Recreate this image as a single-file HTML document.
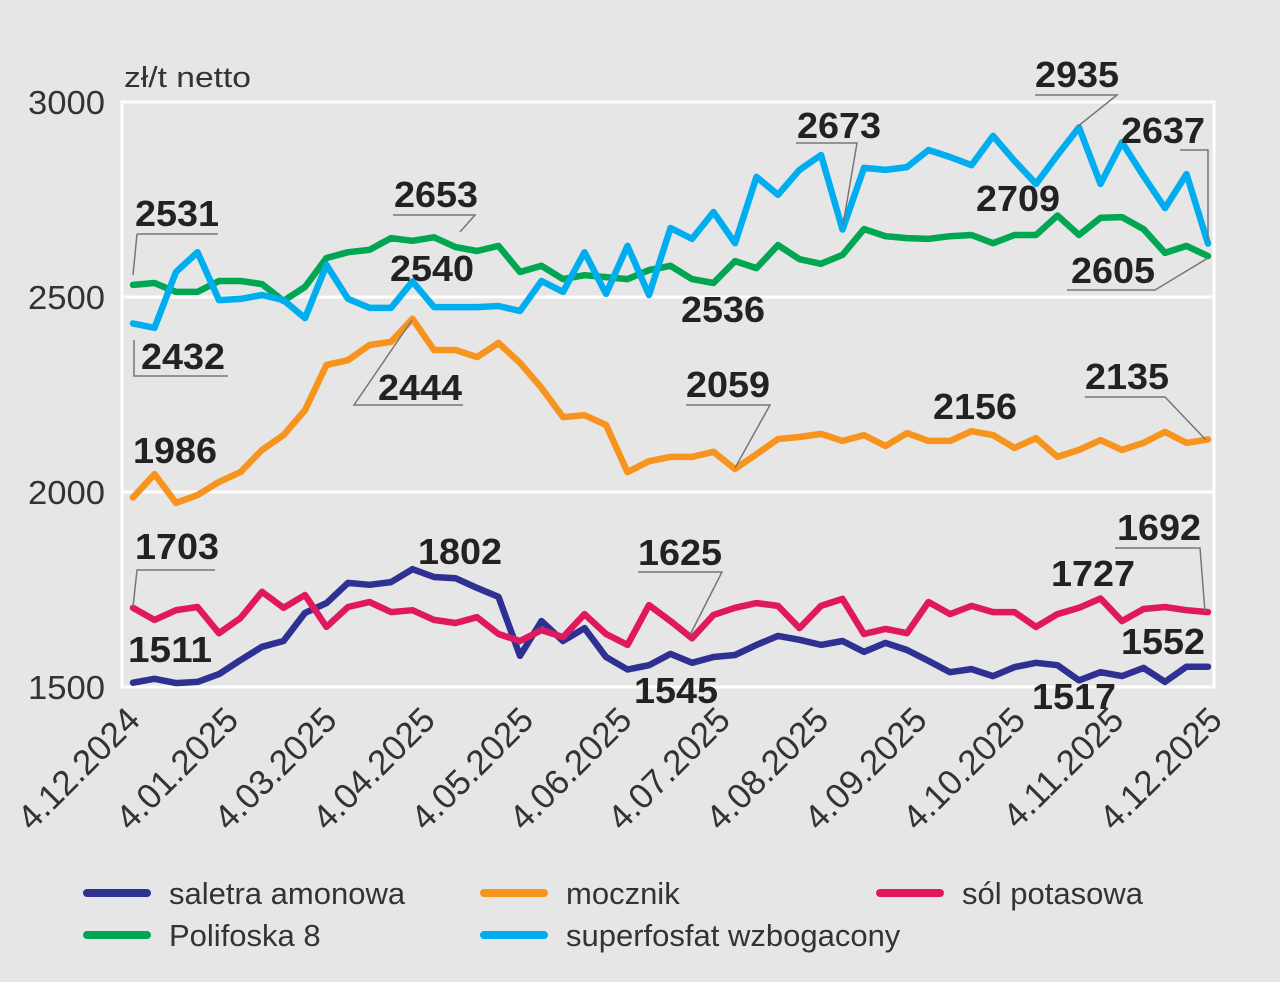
<!DOCTYPE html>
<html><head><meta charset="utf-8">
<style>
html,body{margin:0;padding:0;background:#e6e6e7;}
svg{display:block;font-family:"Liberation Sans",Arial,sans-serif;}
</style></head>
<body>
<svg id="chart" width="1280" height="982" viewBox="0 0 1280 982" xmlns="http://www.w3.org/2000/svg">
<rect x="0" y="0" width="1280" height="982" fill="#e6e6e7"/>
<g id="grid"></g>
<g id="axes"></g>
<g id="series"></g>
<g id="ann"></g>
<g id="legend"></g>
</svg>
<script>
const xLabels = ["4.12.2024","4.01.2025","4.03.2025","4.04.2025","4.05.2025","4.06.2025","4.07.2025","4.08.2025","4.09.2025","4.10.2025","4.11.2025","4.12.2025"];
const yTicks = [1500,2000,2500,3000];
const saletra = [1511,1521,1510,1513,1533,1569,1603,1618,1690,1715,1767,1762,1769,1802,1782,1779,1754,1731,1580,1669,1618,1651,1577,1545,1556,1585,1562,1577,1582,1608,1631,1621,1608,1618,1590,1613,1595,1567,1538,1546,1528,1551,1562,1556,1517,1538,1528,1549,1513,1552,1552];
const mocznik = [1986,2046,1972,1992,2026,2051,2108,2146,2210,2326,2338,2377,2385,2444,2364,2364,2346,2382,2331,2267,2192,2197,2172,2051,2079,2090,2090,2103,2059,2097,2136,2141,2149,2131,2146,2118,2151,2131,2131,2156,2146,2113,2138,2090,2108,2133,2108,2126,2154,2126,2135];
const sol = [1703,1672,1697,1705,1638,1677,1744,1703,1736,1654,1705,1718,1692,1697,1672,1664,1679,1636,1618,1646,1628,1687,1636,1608,1710,1669,1625,1685,1703,1715,1708,1651,1708,1726,1636,1649,1638,1718,1687,1708,1692,1692,1654,1687,1703,1727,1669,1700,1705,1697,1692];
const polifoska = [2531,2536,2513,2513,2541,2541,2533,2490,2526,2600,2615,2621,2651,2644,2653,2628,2618,2631,2564,2580,2546,2556,2551,2546,2569,2580,2546,2536,2592,2574,2633,2597,2585,2608,2674,2656,2651,2649,2656,2659,2638,2659,2659,2709,2659,2703,2705,2674,2613,2631,2605];
const superfosfat = [2432,2421,2564,2615,2492,2495,2505,2492,2446,2582,2495,2472,2472,2540,2474,2474,2474,2477,2464,2541,2513,2615,2508,2631,2505,2677,2649,2718,2638,2808,2762,2826,2864,2673,2831,2826,2833,2877,2859,2838,2913,2849,2790,2864,2935,2790,2897,2810,2728,2815,2637];
const seriesNames = ["saletra amonowa","mocznik","sól potasowa","Polifoska 8","superfosfat wzbogacony"];
const seriesColors = ["#2e3192","#f7941d","#e0195f","#00a651","#00aeef"];

const NS="http://www.w3.org/2000/svg";
const X0=133, X1=1208, Y0=687, Y1=102, VMIN=1500, VMAX=3000;
const N=saletra.length;
function xs(i){return X0+(X1-X0)*i/(N-1);}
function ys(v){return Y0-(v-VMIN)/(VMAX-VMIN)*(Y0-Y1);}
function mk(tag,attrs,parent){const e=document.createElementNS(NS,tag);for(const k in attrs)e.setAttribute(k,attrs[k]);parent.appendChild(e);return e;}

const grid=document.getElementById('grid');
const fr=mk('rect',{x:122,y:Y1,width:1092,height:Y0-Y1,fill:'none',stroke:'#fff','stroke-width':3},grid);


const axes=document.getElementById('axes');
yTicks.forEach(v=>{
  if(v>VMIN&&v<VMAX){
    const l=mk('line',{x1:122,x2:1214,y1:ys(v),y2:ys(v),stroke:'#fff','stroke-width':3},grid);
    
    
  }
  const t=mk('text',{x:105,y:ys(v)+12,'text-anchor':'end','font-size':33,fill:'#333',textLength:77,lengthAdjust:'spacingAndGlyphs'},axes);
  t.textContent=v;
  
  
});
const unit=mk('text',{x:124,y:87,'font-size':29,fill:'#333',textLength:127,lengthAdjust:'spacingAndGlyphs'},axes);
unit.textContent='zł/t netto';


xLabels.forEach((s,k)=>{
  const x=142+(1224-142)*k/(xLabels.length-1), y=722;
  const t=mk('text',{x:x,y:y,'text-anchor':'end','font-size':35,fill:'#333',transform:`rotate(-45 ${x} ${y})`},axes);
  t.textContent=s;
  
  
});

const sg=document.getElementById('series');
[saletra,mocznik,sol,polifoska,superfosfat].forEach((arr,si)=>{
  const pts=arr.map((v,i)=>xs(i).toFixed(1)+','+ys(v).toFixed(1)).join(' ');
  const p=mk('polyline',{points:pts,fill:'none',stroke:seriesColors[si],'stroke-width':6.5,'stroke-linejoin':'round','stroke-linecap':'round'},sg);
  
  
});

const ann=document.getElementById('ann');
const anns=[
 ["2531",135,226,"137,234 218,234 M137,234 133,275"],
 ["2432",141,369,"228,376 134,376 134,340"],
 ["2653",394,207,"393,215 475,215 460,232"],
 ["2540",390,281,""],
 ["2444",378,400,"463,405 354,405 412,320"],
 ["1986",133,463,""],
 ["1703",135,559,"215,570 137,570 133,607"],
 ["1511",128,662,""],
 ["1802",418,564,""],
 ["2536",681,322,""],
 ["2059",686,397,"686,405 770,405 735,468"],
 ["1625",638,565,"638,572 722,572 690,635"],
 ["1545",634,703,""],
 ["2673",797,138,"796,143 857,143 843,225"],
 ["2935",1035,87,"1035,95 1117,95 1077,127"],
 ["2637",1121,143,"1180,150 1208,150 1208,242"],
 ["2709",976,211,""],
 ["2605",1071,283,"1067,290 1155,290 1208,258"],
 ["2135",1085,389,"1085,397 1165,397 1206,440"],
 ["2156",933,419,""],
 ["1692",1117,540,"1115,548 1200,548 1205,612"],
 ["1727",1051,586,""],
 ["1552",1121,654,""],
 ["1517",1032,709,""]
];
anns.forEach(a=>{
  if(a[3]){
    a[3].split(' M').forEach(seg=>{
      const l=mk('polyline',{points:seg,fill:'none',stroke:'#777','stroke-width':1.5},ann);
      
      
    });
  }
  const t=mk('text',{x:a[1],y:a[2],'font-size':36,'font-weight':'bold',fill:'#222',textLength:84,lengthAdjust:'spacingAndGlyphs'},ann);
  t.textContent=a[0];
  
  
});

const lg=document.getElementById('legend');
const lpos=[[83,893],[480,893],[876,893],[83,935],[480,935]];
seriesNames.forEach((n,i)=>{
  const [x,y]=lpos[i];
  const l=mk('line',{x1:x+4,x2:x+64,y1:y,y2:y,stroke:seriesColors[i],'stroke-width':8,'stroke-linecap':'round'},lg);
  
  
  const t=mk('text',{x:x+86,y:y+11,'font-size':31,fill:'#333'},lg);
  t.textContent=n;
  
  
});
</script>
</body></html>
